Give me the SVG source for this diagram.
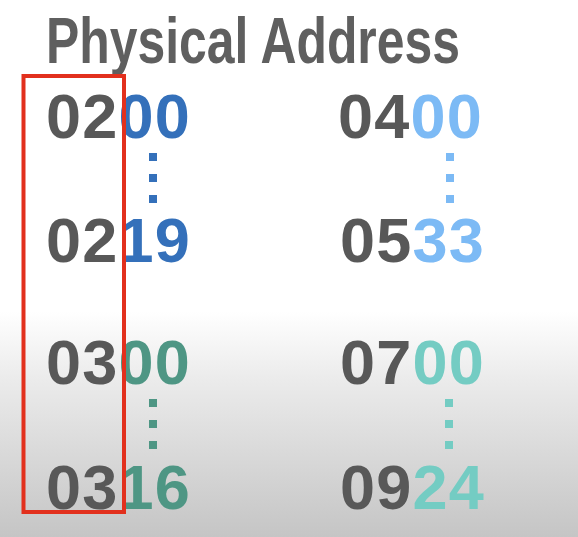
<svg xmlns="http://www.w3.org/2000/svg" width="578" height="537" viewBox="0 0 578 537">
<defs>
<linearGradient id="bg" x1="0" y1="0" x2="0" y2="537" gradientUnits="userSpaceOnUse">
<stop offset="0" stop-color="#ffffff"/>
<stop offset="0.58" stop-color="#ffffff"/>
<stop offset="0.7" stop-color="#ececec"/>
<stop offset="1" stop-color="#c5c5c5"/>
</linearGradient>
<style>
.t{font-family:"Liberation Sans",Arial,sans-serif;font-weight:bold;}
.num{font-size:63px;letter-spacing:1.2px;}
.g{fill:#585858;}
.b1{fill:#3470ba;}
.b2{fill:#7cbaf5;}
.t1{fill:#4e9684;}
.t2{fill:#74ccc3;}
</style>
</defs>
<rect x="0" y="0" width="578" height="537" fill="url(#bg)"/>
<text id="title" class="t" x="46" y="63" font-size="64" fill="#5f5f5f" textLength="414" lengthAdjust="spacingAndGlyphs">Physical Address</text>

<g id="a0200"><text class="t num" x="46" y="138"><tspan class="g">02</tspan><tspan class="b1">00</tspan></text></g>
<g id="dots1" class="b1"><rect x="149" y="153" width="8" height="8"/><rect x="149" y="174" width="8" height="8"/><rect x="149" y="195" width="8" height="8"/></g>
<g id="a0219"><text class="t num" x="46" y="262"><tspan class="g">02</tspan><tspan class="b1">19</tspan></text></g>

<g id="a0400"><text class="t num" x="338" y="138"><tspan class="g">04</tspan><tspan class="b2">00</tspan></text></g>
<g id="dots2" class="b2"><rect x="446" y="153" width="8" height="8"/><rect x="446" y="174" width="8" height="8"/><rect x="446" y="195" width="8" height="8"/></g>
<g id="a0533"><text class="t num" x="340" y="262"><tspan class="g">05</tspan><tspan class="b2">33</tspan></text></g>

<g id="a0300"><text class="t num" x="46" y="384"><tspan class="g">03</tspan><tspan class="t1">00</tspan></text></g>
<g id="dots3" class="t1"><rect x="149" y="399" width="8" height="8"/><rect x="149" y="420" width="8" height="8"/><rect x="149" y="441" width="8" height="8"/></g>
<g id="a0316"><text class="t num" x="46" y="509"><tspan class="g">03</tspan><tspan class="t1">16</tspan></text></g>

<g id="a0700"><text class="t num" x="340" y="384"><tspan class="g">07</tspan><tspan class="t2">00</tspan></text></g>
<g id="dots4" class="t2"><rect x="445" y="399" width="8" height="8"/><rect x="445" y="420" width="8" height="8"/><rect x="445" y="441" width="8" height="8"/></g>
<g id="a0924"><text class="t num" x="340" y="509"><tspan class="g">09</tspan><tspan class="t2">24</tspan></text></g>

<g id="highlight"><rect x="23.5" y="76" width="100.5" height="436" fill="none" stroke="#e2301d" stroke-width="4"/></g>
</svg>
